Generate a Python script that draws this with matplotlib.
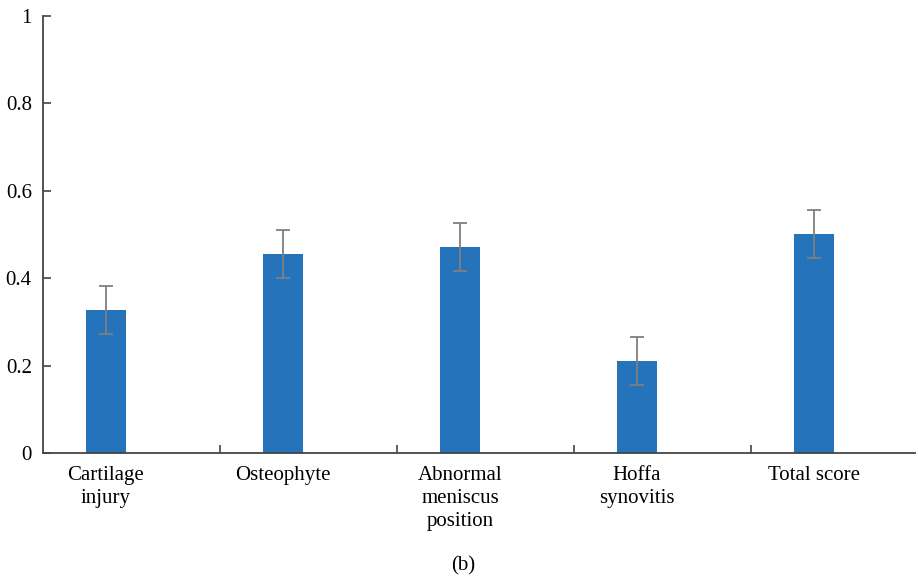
import numpy as np
import matplotlib
matplotlib.use('Agg')
import matplotlib.pyplot as plt

categories = ['Cartilage\ninjury', 'Osteophyte', 'Abnormal\nmeniscus\nposition',
              'Hoffa\nsynovitis', 'Total score']
values = [0.327, 0.455, 0.471, 0.211, 0.501]
errors = [0.054, 0.055, 0.055, 0.055, 0.055]

plt.rcParams['font.family'] = ['Liberation Serif', 'DejaVu Serif']
plt.rcParams['font.size'] = 15

fig = plt.figure(figsize=(9.18, 5.81), dpi=100)
ax = fig.add_axes([0.0468, 0.2203, 0.9499, 0.7522])

x = np.arange(len(categories))
ax.bar(x, values, width=0.226, color='#2473BB', zorder=2)
ax.errorbar(x, values, yerr=errors, fmt='none', ecolor='#7f7f7f',
            elinewidth=1.3, capsize=5, capthick=1.3, zorder=3)

# category boundaries sit left of each bar, like a two-slot cluster
ax.set_xlim(-0.356, 4.57)
ax.set_ylim(0, 1)
ax.set_xticks(x)
ax.set_xticklabels(categories, linespacing=1.3)
ax.set_xticks(x[1:] - 0.356, minor=True)
ax.set_yticks([0, 0.2, 0.4, 0.6, 0.8, 1])
ax.set_yticklabels(['0', '0.2', '0.4', '0.6', '0.8', '1'])

ax.tick_params(axis='x', which='major', length=0, pad=9)
ax.tick_params(axis='x', which='minor', direction='in', length=6,
               width=1.2, color='#444444')
ax.tick_params(axis='y', direction='in', length=6, width=1.2,
               color='#444444', pad=8)

for side in ['top', 'right']:
    ax.spines[side].set_visible(False)
for side in ['left', 'bottom']:
    ax.spines[side].set_color('#444444')
    ax.spines[side].set_linewidth(1.3)

fig.text(0.505, 0.026, '(b)', ha='center', va='center', fontsize=15)

fig.savefig('out.png', dpi=100)
